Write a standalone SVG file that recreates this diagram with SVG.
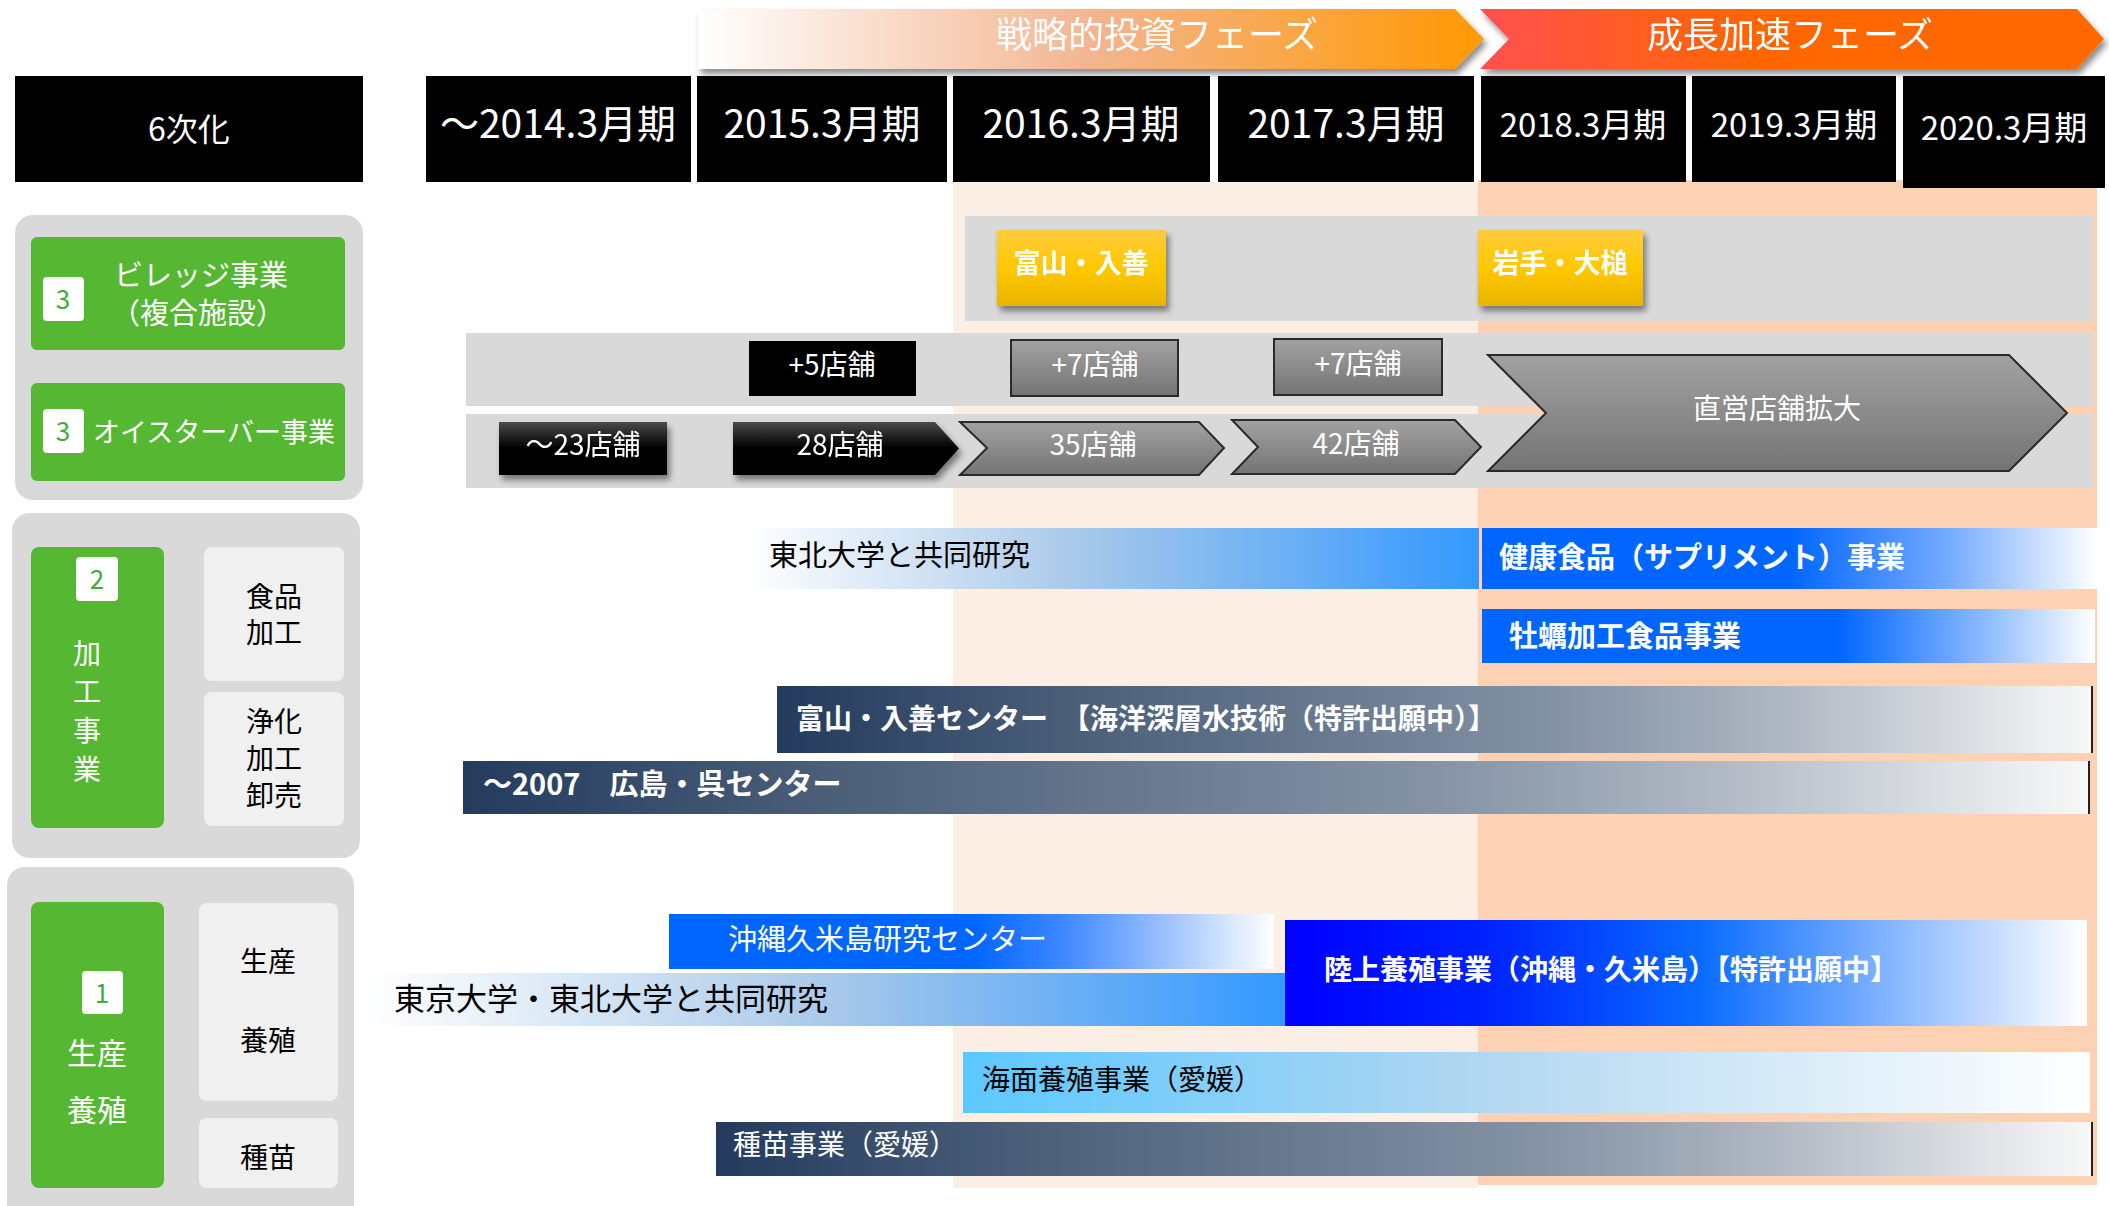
<svg xmlns="http://www.w3.org/2000/svg" width="2109" height="1206" viewBox="0 0 2109 1206">
<style>
text{font-family:"Noto Sans CJK JP","Noto Sans",sans-serif;dominant-baseline:central}
.hdr{fill:#000}
.ht{fill:#fff;text-anchor:middle}
.panel{fill:#D9D9D9}
.green{fill:#56B832}
.badge{fill:#fff}
.bt{fill:#3DAE3A;font-size:26px;text-anchor:middle}
.wt{fill:#fff;text-anchor:middle}
.lbox{fill:#F0F0F0}
.kt{fill:#000;text-anchor:middle;font-size:28px}
.band{fill:#D9D9D9}
.st{fill:#fff;font-size:28px;text-anchor:middle}
.gbox{fill:url(#gGray);stroke:#2a2a2a;stroke-width:2}
.lbl{font-size:29px}
.bw{fill:#fff;font-weight:bold}
.edge{stroke:#222;stroke-width:2}
</style>
<defs>
<filter id="sh" x="-10%" y="-15%" width="130%" height="150%"><feDropShadow dx="3" dy="5" stdDeviation="3" flood-color="#000" flood-opacity="0.45"/></filter>
<linearGradient id="gPh1" x1="0" y1="0" x2="1" y2="0"><stop offset="0" stop-color="#FFFFFF"/><stop offset="0.5" stop-color="#F3B590"/><stop offset="1" stop-color="#FF9900"/></linearGradient>
<linearGradient id="gPh2" x1="0" y1="0" x2="1" y2="0"><stop offset="0" stop-color="#FF5050"/><stop offset="0.45" stop-color="#FF6600"/><stop offset="1" stop-color="#FF6A00"/></linearGradient>
<linearGradient id="gYel" x1="0" y1="0" x2="0" y2="1"><stop offset="0" stop-color="#FFCB40"/><stop offset="0.5" stop-color="#FFC800"/><stop offset="1" stop-color="#E8B400"/></linearGradient>
<linearGradient id="gGray" x1="0" y1="0" x2="0" y2="1"><stop offset="0" stop-color="#A2A2A2"/><stop offset="1" stop-color="#747474"/></linearGradient>
<linearGradient id="gBlack" x1="0" y1="0" x2="0" y2="1"><stop offset="0" stop-color="#4a4a4a"/><stop offset="0.5" stop-color="#000"/><stop offset="1" stop-color="#000"/></linearGradient>
<linearGradient id="gTohoku" x1="0" y1="0" x2="1" y2="0"><stop offset="0" stop-color="#FFFFFF"/><stop offset="0.45" stop-color="#A9C9E9"/><stop offset="1" stop-color="#3399FF"/></linearGradient>
<linearGradient id="gHealth" x1="0" y1="0" x2="1" y2="0"><stop offset="0" stop-color="#0066FF"/><stop offset="0.5" stop-color="#0066FF"/><stop offset="0.75" stop-color="#70A8FF"/><stop offset="1" stop-color="#FFFFFF"/></linearGradient>
<linearGradient id="gOyster" x1="0" y1="0" x2="1" y2="0"><stop offset="0" stop-color="#0066FF"/><stop offset="0.58" stop-color="#0066FF"/><stop offset="0.8" stop-color="#80B3FF"/><stop offset="1" stop-color="#FFFFFF"/></linearGradient>
<linearGradient id="gNavy" x1="0" y1="0" x2="1" y2="0"><stop offset="0" stop-color="#243B5E"/><stop offset="0.22" stop-color="#4A5E78"/><stop offset="0.6" stop-color="#8593A5"/><stop offset="0.77" stop-color="#B0B8C3"/><stop offset="1" stop-color="#F8F8F8"/></linearGradient>
<linearGradient id="gOkinawa" x1="0" y1="0" x2="1" y2="0"><stop offset="0" stop-color="#0066FF"/><stop offset="0.5" stop-color="#0066FF"/><stop offset="0.65" stop-color="#3D87FF"/><stop offset="1" stop-color="#FFFFFF"/></linearGradient>
<linearGradient id="gTokyo" x1="0" y1="0" x2="1" y2="0"><stop offset="0" stop-color="#FFFFFF"/><stop offset="0.5" stop-color="#A9C9E9"/><stop offset="1" stop-color="#3399FF"/></linearGradient>
<linearGradient id="gLand" x1="0" y1="0" x2="1" y2="0"><stop offset="0" stop-color="#0000FF"/><stop offset="0.25" stop-color="#0022FF"/><stop offset="0.52" stop-color="#0A6CFF"/><stop offset="0.8" stop-color="#9CC3FF"/><stop offset="1" stop-color="#FFFFFF"/></linearGradient>
<linearGradient id="gSea" x1="0" y1="0" x2="1" y2="0"><stop offset="0" stop-color="#5BC8FF"/><stop offset="0.45" stop-color="#B0D6F0"/><stop offset="1" stop-color="#FFFFFF"/></linearGradient>
</defs>

<g id="background">
<rect x="953" y="182" width="525" height="1006" fill="#FBEEE4"/>
<rect x="1478" y="180" width="619" height="1005" fill="#FDD1B3"/>
</g>

<g id="phases">
<g id="phase-strategic" filter="url(#sh)">
<polygon points="698,9 1455,9 1484,39 1455,69 698,69" fill="url(#gPh1)"/>
<text x="1157" y="32" class="ht" font-size="36">戦略的投資フェーズ</text>
</g>
<g id="phase-growth" filter="url(#sh)">
<polygon points="1480,9 2077,9 2104,39 2077,69 1480,69 1509,39" fill="url(#gPh2)"/>
<text x="1790" y="32" class="ht" font-size="36">成長加速フェーズ</text>
</g>
</g>

<g id="headers">
<g id="h-6ji"><rect class="hdr" x="15" y="76" width="348" height="106"/><text class="ht" x="189" y="127" font-size="32">6次化</text></g>
<g id="h-2014"><rect class="hdr" x="426" y="76" width="265" height="106"/><text class="ht" x="558" y="121" font-size="39">～2014.3月期</text></g>
<g id="h-2015"><rect class="hdr" x="697" y="76" width="250" height="106"/><text class="ht" x="822" y="121" font-size="39">2015.3月期</text></g>
<g id="h-2016"><rect class="hdr" x="953" y="76" width="257" height="106"/><text class="ht" x="1081" y="121" font-size="39">2016.3月期</text></g>
<g id="h-2017"><rect class="hdr" x="1218" y="76" width="256" height="106"/><text class="ht" x="1346" y="121" font-size="39">2017.3月期</text></g>
<g id="h-2018"><rect class="hdr" x="1481" y="76" width="205" height="106"/><text class="ht" x="1583" y="123" font-size="33">2018.3月期</text></g>
<g id="h-2019"><rect class="hdr" x="1692" y="76" width="204" height="106"/><text class="ht" x="1794" y="123" font-size="33">2019.3月期</text></g>
<g id="h-2020"><rect class="hdr" x="1903" y="76" width="202" height="112"/><text class="ht" x="2004" y="126" font-size="33">2020.3月期</text></g>
</g>

<g id="panel-3">
<rect class="panel" x="15" y="215" width="348" height="285" rx="18"/>
<g id="village">
<rect class="green" x="31" y="237" width="314" height="113" rx="6"/>
<rect class="badge" x="43" y="277" width="41" height="44" rx="4"/><text class="bt" x="63" y="297">3</text>
<text class="wt" x="201" y="273" font-size="29">ビレッジ事業</text>
<text class="wt" x="198" y="311" font-size="29">（複合施設）</text>
</g>
<g id="oysterbar">
<rect class="green" x="31" y="383" width="314" height="98" rx="6"/>
<rect class="badge" x="43" y="409" width="41" height="44" rx="4"/><text class="bt" x="63" y="429">3</text>
<text x="93" y="430" fill="#fff" font-size="27">オイスターバー事業</text>
</g>
</g>

<g id="panel-2">
<rect class="panel" x="12" y="513" width="348" height="345" rx="18"/>
<g id="processing">
<rect class="green" x="31" y="547" width="133" height="281" rx="8"/>
<rect class="badge" x="76" y="557" width="42" height="44" rx="4"/><text class="bt" x="97" y="577">2</text>
<text class="wt" x="87" y="652" font-size="28">加</text>
<text class="wt" x="87" y="690" font-size="28">工</text>
<text class="wt" x="87" y="729" font-size="28">事</text>
<text class="wt" x="87" y="768" font-size="28">業</text>
</g>
<g id="food-processing">
<rect class="lbox" x="204" y="547" width="140" height="134" rx="8"/>
<text class="kt" x="274" y="595">食品</text><text class="kt" x="274" y="631">加工</text>
</g>
<g id="purification">
<rect class="lbox" x="204" y="692" width="140" height="134" rx="8"/>
<text class="kt" x="274" y="720">浄化</text><text class="kt" x="274" y="757">加工</text><text class="kt" x="274" y="794">卸売</text>
</g>
</g>

<g id="panel-1">
<rect class="panel" x="7" y="867" width="347" height="370" rx="18"/>
<g id="production">
<rect class="green" x="31" y="902" width="133" height="286" rx="8"/>
<rect class="badge" x="82" y="971" width="41" height="43" rx="4"/><text class="bt" x="102" y="991">1</text>
<text class="wt" x="97" y="1051" font-size="30">生産</text>
<text class="wt" x="97" y="1108" font-size="30">養殖</text>
</g>
<g id="farming">
<rect class="lbox" x="199" y="903" width="139" height="198" rx="8"/>
<text class="kt" x="268" y="960" font-size="30">生産</text><text class="kt" x="268" y="1039" font-size="30">養殖</text>
</g>
<g id="seedling">
<rect class="lbox" x="199" y="1118" width="139" height="70" rx="8"/>
<text class="kt" x="268" y="1156" font-size="30">種苗</text>
</g>
</g>

<g id="bands">
<rect class="band" x="965" y="216" width="1128" height="105"/>
<rect class="band" x="466" y="333" width="1627" height="73"/>
<rect class="band" x="466" y="414" width="1627" height="74"/>
</g>

<g id="village-sites">
<g id="toyama-nyuzen" filter="url(#sh)"><rect x="997" y="230" width="169" height="76" fill="url(#gYel)"/><text class="wt" x="1081" y="261" font-size="27" font-weight="bold">富山・入善</text></g>
<g id="iwate-otsuchi" filter="url(#sh)"><rect x="1478" y="230" width="165" height="76" fill="url(#gYel)"/><text class="wt" x="1560" y="261" font-size="27" font-weight="bold">岩手・大槌</text></g>
</g>

<g id="stores">
<g id="plus5"><rect x="749" y="341" width="167" height="55" fill="#000"/><text class="st" x="832" y="363">+5店舗</text></g>
<g id="plus7a"><rect class="gbox" x="1011" y="340" width="167" height="56"/><text class="st" x="1095" y="363">+7店舗</text></g>
<g id="plus7b"><rect class="gbox" x="1274" y="339" width="168" height="56"/><text class="st" x="1358" y="362">+7店舗</text></g>
<g id="s23" filter="url(#sh)"><rect x="499" y="422" width="168" height="53" fill="url(#gBlack)"/><text class="st" x="583" y="443">～23店舗</text></g>
<g id="s28" filter="url(#sh)"><polygon points="733,422 935,422 959,448.5 935,475 733,475" fill="url(#gBlack)"/><text class="st" x="840" y="443">28店舗</text></g>
<g id="s35"><polygon class="gbox" points="960,422 1199,422 1224,448 1199,475 960,475 987,448"/><text class="st" x="1093" y="443">35店舗</text></g>
<g id="s42"><polygon class="gbox" points="1232,420 1455,420 1481,447 1455,474 1232,474 1258,447"/><text class="st" x="1356" y="442">42店舗</text></g>
<g id="expand"><polygon class="gbox" points="1488,355 2009,355 2067,413 2009,471 1488,471 1546,413"/><text class="st" x="1777" y="407">直営店舗拡大</text></g>
</g>

<g id="processing-bars">
<g id="tohoku-research"><rect x="744" y="528" width="735" height="61" fill="url(#gTohoku)"/><text class="lbl" x="769" y="553" font-size="31">東北大学と共同研究</text></g>
<g id="health-food"><rect x="1482" y="528" width="615" height="61" fill="url(#gHealth)"/><text class="lbl bw" x="1499" y="555">健康食品（サプリメント）事業</text></g>
<g id="oyster-food"><rect x="1482" y="609" width="613" height="54" fill="url(#gOyster)"/><text class="lbl bw" x="1509" y="634">牡蠣加工食品事業</text></g>
<g id="toyama-center"><rect x="777" y="686" width="1315" height="67" fill="url(#gNavy)"/><line class="edge" x1="2092" y1="686" x2="2092" y2="753"/><text class="bw" x="796" y="717" font-size="28">富山・入善センター　【海洋深層水技術（特許出願中）】</text></g>
<g id="hiroshima-center"><rect x="463" y="761" width="1626" height="53" fill="url(#gNavy)"/><line class="edge" x1="2089" y1="761" x2="2089" y2="814"/><text class="bw" x="483" y="782" font-size="29">～2007　広島・呉センター</text></g>
</g>

<g id="production-bars">
<g id="okinawa-center"><rect x="669" y="914" width="605" height="55" fill="url(#gOkinawa)"/><text x="728" y="937" fill="#fff" font-size="29">沖縄久米島研究センター</text></g>
<g id="tokyo-research"><rect x="368" y="973" width="917" height="53" fill="url(#gTokyo)"/><text x="394" y="996" font-size="31">東京大学・東北大学と共同研究</text></g>
<g id="land-farming"><rect x="1285" y="920" width="802" height="106" fill="url(#gLand)"/><text class="bw" x="1324" y="968" font-size="28">陸上養殖事業（沖縄・久米島）【特許出願中】</text></g>
<g id="sea-farming"><rect x="963" y="1052" width="1127" height="61" fill="url(#gSea)"/><text x="982" y="1078" font-size="28">海面養殖事業（愛媛）</text></g>
<g id="seed-business"><rect x="716" y="1122" width="1376" height="54" fill="url(#gNavy)"/><line class="edge" x1="2092" y1="1122" x2="2092" y2="1176"/><text x="733" y="1143" fill="#fff" font-size="28">種苗事業（愛媛）</text></g>
</g>

<g id="connectors"/>
</svg>
